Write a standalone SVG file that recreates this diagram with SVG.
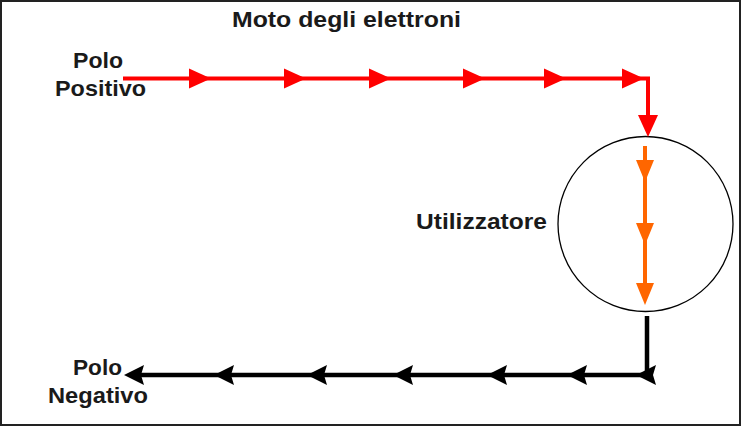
<svg xmlns="http://www.w3.org/2000/svg" xmlns:xlink="http://www.w3.org/1999/xlink" width="741" height="426" viewBox="0 0 741 426">
<style>
.lbl{font-family:"Liberation Sans",Arial,sans-serif;font-weight:bold;font-size:22px;fill:#1a1a1a}
.red{stroke:#ff0000;stroke-width:4;fill:none}
.org{stroke:#ff6600;stroke-width:4;fill:none}
.blk{stroke:#000;stroke-width:4.5;fill:none}
</style>
<defs>
<polygon id="hRed" points="0,0 -22,-10 -22,10" fill="#ff0000"/>
<polygon id="hRedDown" points="0,0 -10,-22 10,-22" fill="#ff0000"/>
<polygon id="hOrg" points="0,0 -9,-22 9,-22" fill="#ff6600"/>
<polygon id="hBlk" points="0,0 20,-10 17,0 20,10" fill="#000"/>
</defs>
<rect x="1" y="1" width="739" height="424" fill="#fff" stroke="#222" stroke-width="2"/>
<g id="title"><text class="lbl" x="232" y="27" textLength="229" lengthAdjust="spacingAndGlyphs">Moto degli elettroni</text></g>
<g id="polo-positivo">
<text class="lbl" x="73" y="68" textLength="50" lengthAdjust="spacingAndGlyphs">Polo</text>
<text class="lbl" x="55" y="96" textLength="91" lengthAdjust="spacingAndGlyphs">Positivo</text>
</g>
<g id="polo-negativo">
<text class="lbl" x="73" y="375" textLength="49" lengthAdjust="spacingAndGlyphs">Polo</text>
<text class="lbl" x="48" y="403" textLength="100" lengthAdjust="spacingAndGlyphs">Negativo</text>
</g>
<g id="utilizzatore">
<circle cx="645.5" cy="224" r="87.5" fill="none" stroke="#000" stroke-width="1.3"/>
<text class="lbl" x="416" y="229" textLength="131" lengthAdjust="spacingAndGlyphs">Utilizzatore</text>
</g>
<g id="connectors">
<path class="red" d="M123,78.5 H648 V130"/>
<use xlink:href="#hRed" x="211" y="78.5"/>
<use xlink:href="#hRed" x="306" y="78.5"/>
<use xlink:href="#hRed" x="391" y="78.5"/>
<use xlink:href="#hRed" x="485" y="78.5"/>
<use xlink:href="#hRed" x="566" y="78.5"/>
<use xlink:href="#hRed" x="644" y="78.5"/>
<use xlink:href="#hRedDown" x="648" y="137"/>
<path class="org" d="M645,146 V298"/>
<use xlink:href="#hOrg" x="645" y="182"/>
<use xlink:href="#hOrg" x="645" y="245"/>
<use xlink:href="#hOrg" x="645" y="305"/>
<path class="blk" d="M647,316 V375 H130"/>
<use xlink:href="#hBlk" x="124" y="375"/>
<use xlink:href="#hBlk" x="214" y="375"/>
<use xlink:href="#hBlk" x="307" y="375"/>
<use xlink:href="#hBlk" x="393" y="375"/>
<use xlink:href="#hBlk" x="487" y="375"/>
<use xlink:href="#hBlk" x="567" y="375"/>
<use xlink:href="#hBlk" x="636" y="375"/>
</g>
</svg>
